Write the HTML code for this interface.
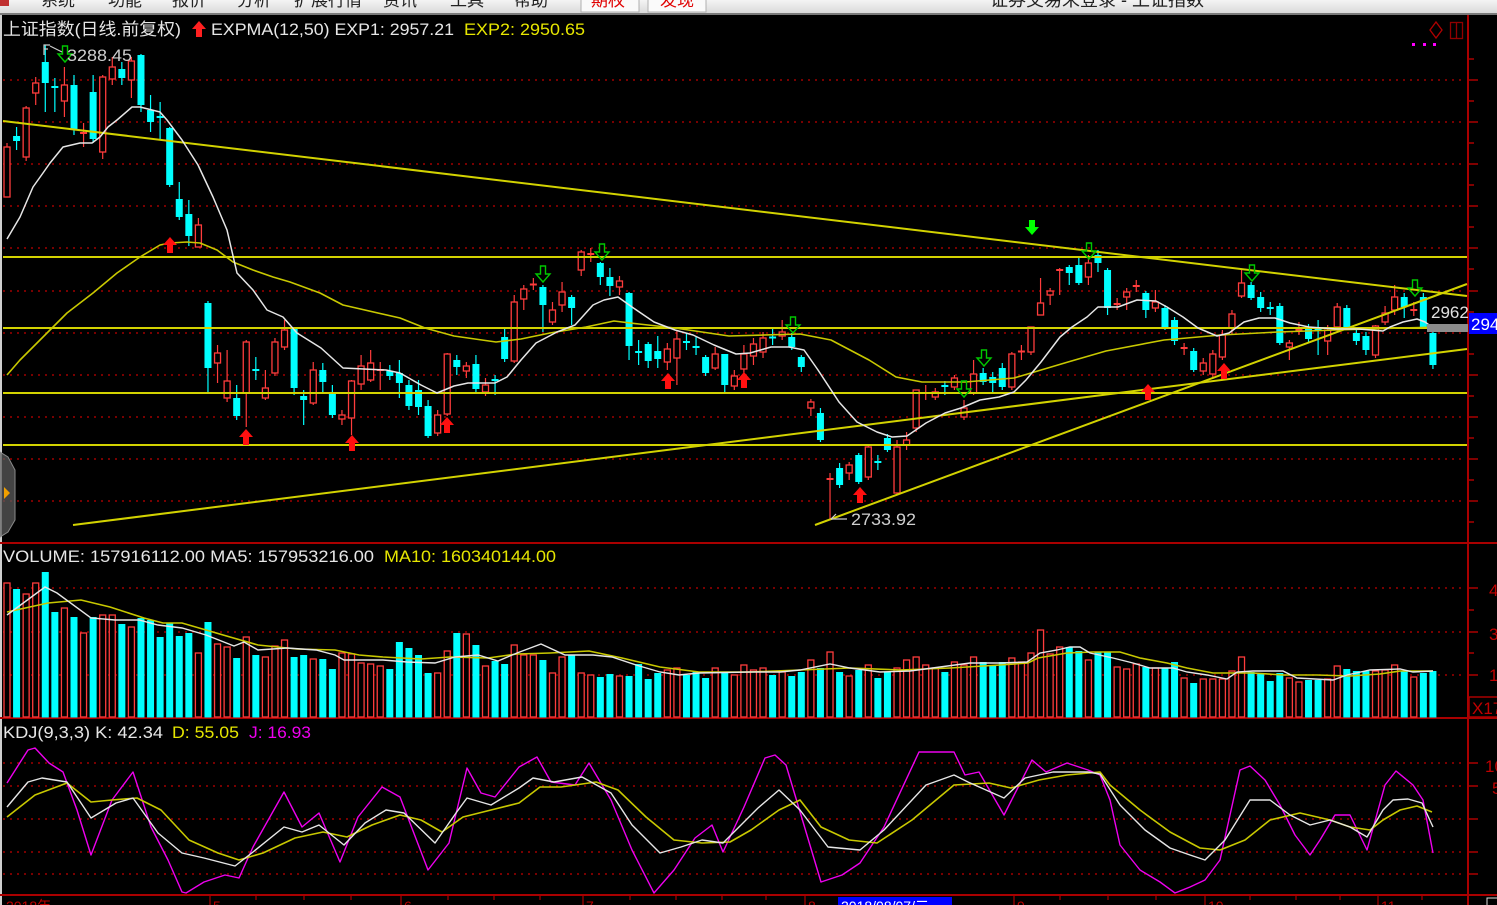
<!DOCTYPE html>
<html><head><meta charset="utf-8">
<style>
html,body{margin:0;padding:0;background:#000;overflow:hidden;}
svg{display:block;}
text{font-family:"Liberation Sans","Noto Sans CJK SC",sans-serif;}
</style></head>
<body>
<svg id="s" width="1497" height="905" viewBox="0 0 1497 905" xmlns="http://www.w3.org/2000/svg">
<defs>
<linearGradient id="mg" x1="0" y1="0" x2="0" y2="1"><stop offset="0" stop-color="#f4f4f4"/><stop offset="1" stop-color="#d8d8d8"/></linearGradient>
</defs>
<rect x="0" y="0" width="1497" height="905" fill="#000"/>
<!-- menu bar -->
<rect x="0" y="0" width="1497" height="14" fill="url(#mg)"/>
<rect x="0" y="13" width="1497" height="2" fill="#7a7a7a"/>
<rect x="581" y="-2" width="58" height="14" fill="#fafafa" stroke="#b0b0b0"/>
<rect x="648" y="-2" width="58" height="14" fill="#fafafa" stroke="#b0b0b0"/>
<g font-size="17" fill="#222">
<text x="41" y="6">系统</text>
<text x="108" y="6">功能</text>
<text x="172" y="6">报价</text>
<text x="237" y="6">分析</text>
<text x="294" y="6">扩展行情</text>
<text x="383" y="6">资讯</text>
<text x="450" y="6">工具</text>
<text x="514" y="6">帮助</text>
<text x="591" y="6" fill="#e00000">期权</text>
<text x="660" y="6" fill="#e00000">发现</text>
<text x="990" y="6" font-size="18">证券交易未登录 - 上证指数</text>
</g>
<rect x="0" y="0" width="9" height="6" fill="#c03030"/>
<!-- left strip -->
<rect x="0" y="15" width="2" height="890" fill="#cfcfcf"/>

<!-- grid dotted lines -->
<g stroke="#a00000" stroke-width="1.6" stroke-dasharray="2,5">
<line x1="3" y1="80" x2="1466" y2="80"/><line x1="3" y1="122" x2="1466" y2="122"/>
<line x1="3" y1="164" x2="1466" y2="164"/><line x1="3" y1="206" x2="1466" y2="206"/>
<line x1="3" y1="248" x2="1466" y2="248"/><line x1="3" y1="291" x2="1466" y2="291"/>
<line x1="3" y1="333" x2="1466" y2="333"/><line x1="3" y1="375" x2="1466" y2="375"/>
<line x1="3" y1="417" x2="1466" y2="417"/><line x1="3" y1="459" x2="1466" y2="459"/>
<line x1="3" y1="501" x2="1466" y2="501"/>
<line x1="3" y1="588" x2="1466" y2="588"/><line x1="3" y1="632" x2="1466" y2="632"/>
<line x1="3" y1="675" x2="1466" y2="675"/>
<line x1="3" y1="763" x2="1466" y2="763"/><line x1="3" y1="786" x2="1466" y2="786"/>
<line x1="3" y1="819" x2="1466" y2="819"/><line x1="3" y1="852" x2="1466" y2="852"/>
<line x1="3" y1="874" x2="1466" y2="874"/>
</g>

<!-- pane separators / axes -->
<g stroke="#aa0000" stroke-width="2">
<line x1="0" y1="543" x2="1497" y2="543"/>
<line x1="0" y1="718" x2="1497" y2="718"/>
<line x1="0" y1="895" x2="1497" y2="895"/>
<line x1="1468" y1="15" x2="1468" y2="905"/>
</g>
<g id="ticks" stroke="#aa0000" stroke-width="1.5"></g>

<!-- candles & volume (generated) -->
<g id="cand"></g>
<g id="vol"></g>

<!-- horizontal + trend lines -->
<g stroke="#d2d200" stroke-width="2" fill="none">
<line x1="3" y1="257" x2="1467" y2="257"/>
<line x1="3" y1="328" x2="1467" y2="328"/>
<line x1="3" y1="393" x2="1467" y2="393"/>
<line x1="3" y1="445" x2="1467" y2="445"/>
<line x1="3" y1="121" x2="1467" y2="296"/>
<line x1="73" y1="525" x2="1467" y2="349"/>
<line x1="815" y1="525" x2="1467" y2="284"/>
</g>

<!-- EXP lines -->
<polyline fill="none" stroke="#c8c800" stroke-width="1.6" stroke-linejoin="round" points="7,375 20,360 40,340 67,313 93,293 117,273 140,257 160,245 170,243 187,242 200,243 217,250 233,262 253,270 273,277 290,282 320,293 343,305 400,318 425,328 454,336 496,342 521,339 550,333 586,327 614,321 639,324 675,328 729,336 800,334 831,340 869,360 896,377 922,382 965,382 1014,378 1068,362 1106,351 1164,340 1221,335 1278,332 1336,330 1400,328 1440,327"/>
<polyline fill="none" stroke="#e6e6e6" stroke-width="1.5" stroke-linejoin="round" points="7,239 20,217 33,187 43,173 50,163 63,147 80,143 92,143 100,137 108,127 117,120 132,107 140,107 160,112 167,120 182,140 198,165 213,197 227,230 237,273 253,290 267,310 283,317 297,333 321,348 343,368 386,370 400,373 421,385 437,393 454,386 468,383 495,383 507,377 521,360 536,343 557,332 575,325 593,305 604,300 618,297 632,307 654,322 675,330 693,335 714,345 736,354 750,353 771,347 789,347 804,350 818,370 839,402 857,422 877,432 892,437 907,436 926,423 945,413 961,408 980,400 999,397 1014,392 1026,380 1041,362 1060,337 1072,327 1087,317 1098,307 1118,307 1137,300 1156,301 1167,307 1183,317 1198,328 1217,336 1229,333 1244,322 1259,318 1275,318 1290,323 1309,327 1336,329 1359,329 1383,331 1390,327 1403,322 1417,319 1425,322 1432,327"/>

<!-- arrows -->
<g id="arrows"></g>

<!-- volume MA -->
<polyline fill="none" stroke="#c8c800" stroke-width="1.6" points="7,612 48,603 81,600 110,607 144,618 163,623 182,623 206,630 230,637 258,645 297,649 335,650 359,655 383,657 421,659 450,657 488,658 517,654 550,653 589,651 622,658 660,667 699,672 750,672 800,670 850,668 900,670 950,668 1000,665 1028,663 1038,658 1067,653 1093,652 1120,652 1140,658 1167,663 1187,668 1213,673 1253,673 1283,675 1317,675 1350,676 1380,674 1400,671 1433,671"/>
<polyline fill="none" stroke="#e6e6e6" stroke-width="1.4" points="7,615 45,587 57,593 91,618 115,620 139,620 158,625 182,628 206,635 234,646 244,642 258,650 287,648 316,650 335,655 344,660 383,660 407,662 435,663 455,657 478,655 498,661 517,653 541,644 565,655 593,655 612,657 636,665 660,672 679,675 699,673 750,672 780,672 800,670 830,664 850,668 880,672 910,671 940,667 970,663 1000,663 1027,662 1040,653 1057,650 1070,647 1080,647 1090,653 1113,658 1133,663 1150,668 1173,668 1187,672 1207,675 1227,679 1237,672 1253,671 1283,671 1297,678 1333,680 1347,675 1370,670 1400,669 1413,672 1433,671"/>

<!-- KDJ -->
<polyline fill="none" stroke="#ee00ee" stroke-width="1.4" stroke-linejoin="round" points="7,783 28,750 35,748 49,763 63,772 77,810 91,855 112,800 133,772 151,827 168,860 182,892 186,893 204,882 225,875 239,878 253,847 284,792 302,827 319,813 340,862 358,817 382,787 400,797 428,870 449,843 467,768 481,793 495,797 519,767 537,757 551,782 575,785 589,763 611,800 632,850 654,893 674,870 695,838 712,825 723,852 744,807 765,758 775,755 786,765 821,882 842,875 860,863 884,827 919,752 954,752 965,775 979,772 1004,815 1032,760 1046,772 1067,763 1088,770 1100,775 1110,800 1120,845 1140,870 1160,882 1175,893 1190,887 1205,880 1220,860 1240,770 1250,766 1265,780 1280,805 1295,835 1310,855 1320,840 1335,815 1350,815 1367,850 1385,785 1396,771 1413,785 1423,800 1433,853"/>
<polyline fill="none" stroke="#c8c800" stroke-width="1.6" stroke-linejoin="round" points="7,817 35,795 67,783 91,802 112,800 137,798 161,810 189,840 218,853 239,860 263,853 295,838 323,832 347,837 372,825 400,815 421,820 442,832 463,817 491,810 519,803 540,787 561,787 596,782 618,790 646,817 674,840 702,843 730,842 751,830 779,810 800,800 821,827 849,840 877,843 912,820 954,785 989,783 1011,788 1039,780 1067,775 1100,772 1110,785 1140,810 1170,832 1200,848 1220,850 1245,840 1270,820 1300,813 1330,820 1350,827 1370,830 1383,820 1400,810 1417,806 1432,812"/>
<polyline fill="none" stroke="#e6e6e6" stroke-width="1.4" stroke-linejoin="round" points="7,807 28,782 42,778 67,782 91,818 116,803 133,798 158,833 182,853 204,858 235,866 253,852 284,827 302,832 319,825 344,845 365,823 386,810 404,813 435,843 456,813 467,798 491,805 519,788 533,778 554,782 582,777 611,793 632,825 660,853 681,847 702,840 723,843 758,808 779,790 800,810 828,847 860,850 884,830 926,785 954,775 968,782 1004,798 1025,778 1053,772 1088,772 1100,774 1120,805 1145,830 1170,848 1190,855 1205,860 1225,840 1250,800 1270,800 1290,815 1310,825 1330,820 1350,827 1367,837 1383,810 1393,800 1408,799 1422,803 1433,827"/>

<!-- headers -->
<text x="3" y="35" font-size="17" fill="#e6e6e6" textLength="178" lengthAdjust="spacingAndGlyphs">上证指数(日线.前复权)</text>
<path d="M199,21 L206,29 L202,29 L202,37 L196,37 L196,29 L192,29 Z" fill="#ff2020"/>
<text x="211" y="35" font-size="17" fill="#e6e6e6" textLength="243" lengthAdjust="spacingAndGlyphs">EXPMA(12,50) EXP1: 2957.21</text>
<text x="464" y="35" font-size="17" fill="#e6e600" textLength="121" lengthAdjust="spacingAndGlyphs">EXP2: 2950.65</text>

<text x="3" y="562" font-size="17" fill="#e6e6e6" textLength="371" lengthAdjust="spacingAndGlyphs">VOLUME: 157916112.00 MA5: 157953216.00</text>
<text x="384" y="562" font-size="17" fill="#e6e600" textLength="172" lengthAdjust="spacingAndGlyphs">MA10: 160340144.00</text>

<text x="3" y="738" font-size="17" fill="#e6e6e6" textLength="160" lengthAdjust="spacingAndGlyphs">KDJ(9,3,3) K: 42.34</text>
<text x="172" y="738" font-size="17" fill="#e6e600" textLength="67" lengthAdjust="spacingAndGlyphs">D: 55.05</text>
<text x="249" y="738" font-size="17" fill="#ee00ee" textLength="62" lengthAdjust="spacingAndGlyphs">J: 16.93</text>

<!-- price labels -->
<path d="M44,55 V45 H50 M44,49 H48 M50,46 L62,52" stroke="#cccccc" stroke-width="1.2" fill="none"/>
<text x="67" y="61" font-size="17" fill="#cfcfcf" textLength="65" lengthAdjust="spacingAndGlyphs">3288.45</text>
<path d="M831,519 L847,519 M831,519 L836,514" stroke="#cccccc" stroke-width="1.2" fill="none"/>
<text x="851" y="525" font-size="17" fill="#cfcfcf" textLength="65" lengthAdjust="spacingAndGlyphs">2733.92</text>
<text x="1431" y="318" font-size="17" fill="#e0e0e0">2962</text>
<rect x="1427" y="324" width="41" height="8" fill="#8c8c8c"/>
<rect x="1469" y="313" width="30" height="21" fill="#0000ff"/>
<text x="1471" y="330" font-size="17" fill="#ffffff">294</text>

<!-- top right icons -->
<path d="M1436,22 L1442,30 L1436,38 L1430,30 Z" fill="none" stroke="#b00000" stroke-width="1.3"/>
<rect x="1450.5" y="22.5" width="12" height="16" fill="none" stroke="#900000" stroke-width="1.3"/>
<line x1="1456.5" y1="22.5" x2="1456.5" y2="38.5" stroke="#900000" stroke-width="1.3"/>
<rect x="1412" y="43" width="3" height="3" fill="#ff00ff"/>
<rect x="1423" y="43" width="3" height="3" fill="#ff00ff"/>
<rect x="1433" y="43" width="3" height="3" fill="#ff00ff"/>

<!-- right axis labels -->
<g font-size="17" fill="#c00000">
<text x="1489" y="596">4</text>
<text x="1489" y="640">3</text>
<text x="1489" y="681">1</text>
<text x="1485" y="772">100</text>
<text x="1492" y="794">50</text>
</g>
<rect x="1469" y="697" width="30" height="20" fill="none" stroke="#aa0000" stroke-width="1.5"/>
<text x="1472" y="714" font-size="17" fill="#c00000">X17</text>

<!-- left tab -->
<path d="M0,452 L8,457 L15,470 L15,520 L8,532 L0,537 Z" fill="#5a5a5a" fill-opacity="0.75" stroke="#8a8a8a"/>
<path d="M4,487 L10,493 L4,499 Z" fill="#f0a000"/>

<!-- bottom axis -->
<g stroke="#aa0000" stroke-width="1.2">
<line x1="210" y1="895" x2="210" y2="905"/><line x1="401" y1="895" x2="401" y2="905"/>
<line x1="583" y1="895" x2="583" y2="905"/><line x1="805" y1="895" x2="805" y2="905"/>
<line x1="1014" y1="895" x2="1014" y2="905"/><line x1="1205" y1="895" x2="1205" y2="905"/>
<line x1="1378" y1="895" x2="1378" y2="905"/>
<line x1="256" y1="895" x2="256" y2="900"/><line x1="304" y1="895" x2="304" y2="900"/><line x1="351" y1="895" x2="351" y2="900"/>
<line x1="448" y1="895" x2="448" y2="900"/><line x1="494" y1="895" x2="494" y2="900"/><line x1="540" y1="895" x2="540" y2="900"/>
<line x1="630" y1="895" x2="630" y2="900"/><line x1="676" y1="895" x2="676" y2="900"/><line x1="722" y1="895" x2="722" y2="900"/><line x1="766" y1="895" x2="766" y2="900"/>
<line x1="1060" y1="895" x2="1060" y2="900"/><line x1="1108" y1="895" x2="1108" y2="900"/><line x1="1156" y1="895" x2="1156" y2="900"/>
<line x1="1250" y1="895" x2="1250" y2="900"/><line x1="1296" y1="895" x2="1296" y2="900"/><line x1="1340" y1="895" x2="1340" y2="900"/>
<line x1="1422" y1="895" x2="1422" y2="900"/>
</g>
<g font-size="14" fill="#c00000">
<text x="6" y="911">2018年</text>
<text x="213" y="911">5</text>
<text x="404" y="911">6</text>
<text x="586" y="911">7</text>
<text x="808" y="911">8</text>
<text x="1017" y="911">9</text>
<text x="1208" y="911">10</text>
<text x="1381" y="911">11</text>
</g>
<rect x="838" y="897" width="114" height="10" fill="#0000ff"/>
<text x="841" y="911" font-size="14" fill="#ffffff">2018/08/07/二</text>
<rect x="1487" y="898" width="12" height="10" fill="none" stroke="#dddddd"/>
</svg>
<script>
(function(){
var C=[[1,147,197,143,197],[0,136,141,127,150],[1,108,157,106,161],[1,83,93,77,105],[0,62,83,45,112],[0,86,88,78,112],[1,85,101,67,117],[0,85,130,75,135],[1,132,134,123,147],[0,92,139,75,143],[1,77,152,75,159],[1,67,79,57,85],[0,69,78,62,85],[1,61,80,57,98],[0,55,105,54,112],[0,110,122,95,132],[0,116,118,102,140],[0,128,185,127,187],[0,199,217,182,220],[0,214,236,200,246],[1,225,247,218,247],
[0,303,368,301,393],[1,353,363,345,383],[1,381,398,350,402],[0,398,416,385,420],[1,342,393,340,427],[0,369,371,357,380],[1,388,398,370,400],[1,342,373,338,376],[1,330,347,320,350],[0,327,388,327,395],
[0,396,400,390,425],[1,370,403,362,405],[0,370,382,363,393],[0,392,415,385,418],[1,415,419,410,425],[1,381,418,380,435],[1,366,384,355,390],[1,363,380,350,382],[1,369,371,362,390],[0,371,376,365,380],[0,373,383,360,398],[0,385,406,380,410],[0,390,407,380,415],[0,406,436,400,438],[1,415,433,410,436],[1,354,414,353,416],[0,360,367,355,375],[1,366,371,362,378],[0,364,389,355,392],[1,385,392,378,396],[0,379,381,375,395],[0,337,359,328,362],[1,302,361,295,363],[1,289,299,285,310],[1,283,286,278,290],[0,287,305,285,332],[1,310,322,302,325],[1,292,305,282,312],[0,297,308,295,325],[1,252,270,250,276],[1,253,255,248,262],[0,263,277,262,285],[0,277,286,268,296],[1,281,287,276,295],[0,293,346,292,360],[0,351,353,340,365],[0,344,361,342,368],[0,351,359,336,368],[1,349,362,343,370],[1,339,358,330,385],[0,341,343,333,350],[0,346,348,337,355],[0,357,373,355,376],[1,354,368,347,370],[0,354,385,354,392],[1,376,386,370,390],[1,354,369,345,375],[1,344,356,338,365],[1,338,352,332,358],[0,336,339,328,345],[1,332,336,320,340],[0,337,347,333,350],[0,357,367,355,372],[1,402,408,399,416],[0,413,440,408,442],
[1,478,480,473,520],[0,468,485,463,488],[1,465,473,462,480],[0,455,482,453,484],[1,447,477,446,480],[0,461,463,455,470],[0,438,450,434,452],[1,447,493,440,495],[1,440,445,432,450],[1,390,428,390,432],[1,392,394,385,400],[1,392,397,388,400],[0,385,387,381,395],[1,378,387,375,390],[1,408,417,400,420],[1,374,393,360,395],[0,373,382,368,385],[0,377,383,372,392],[0,368,387,363,390],[1,354,387,352,390],[1,350,353,345,360],[1,327,352,327,355],[1,303,315,278,315],[1,291,295,288,305],[1,269,271,268,295],[0,267,273,265,285],[0,265,283,258,285],[1,263,277,255,285],[0,255,263,250,272],[0,270,308,268,315],[1,303,305,298,310],[1,292,297,288,310],[1,285,287,280,292],[0,293,310,291,318],[1,302,308,290,312],[0,308,328,305,330],[0,320,341,317,345],[1,347,349,343,355],[0,351,370,348,372],[1,363,371,358,375],[1,354,374,350,378],[1,335,357,330,360],[1,314,328,310,334],[1,283,296,270,298],[0,285,298,282,300],[0,297,308,292,312],[0,307,309,302,315],[0,306,343,303,345],[1,343,347,340,360],[1,329,331,322,335],[0,327,339,324,342],[0,329,331,320,355],[1,330,341,325,355],[1,307,327,303,332],[0,308,327,305,330],[0,333,341,330,345],[0,336,350,332,355],[1,326,355,325,358],[1,313,322,306,325],[1,297,310,285,315],[0,297,307,293,318],[1,309,311,302,316],[0,297,327,293,327],[0,333,365,327,369]];
var V=[583,589,594,583,572,612,608,617,633,617,615,615,624,627,618,620,637,623,636,633,653,622,644,647,658,637,655,657,646,640,657,655,659,659,669,653,654,663,664,666,669,642,648,655,673,673,651,633,634,645,666,661,664,645,655,655,660,673,657,655,673,675,677,674,676,676,664,679,673,
670,668,675,672,678,668,672,675,665,670,668,675,672,676,672,660,668,652,672,676,670,665,678,672,668,660,657,665,668,672,662,665,657,662,665,
662,658,662,653,630,654,647,647,651,660,652,652,667,669,664,667,668,668,662,678,683,679,679,679,671,657,672,673,681,673,678,682,680,680,679,666,669,671,671,671,670,665,671,677,673,671];
var RED='#ff3c3c',CY='#00ffff';
function X(i){return 7+i*9.57;}
var s='',v='';
for(var i=0;i<C.length;i++){
 var c=C[i],cx=X(i),col=c[0]?RED:CY,h=c[2]-c[1];
 s+='<line x1="'+cx+'" y1="'+c[3]+'" x2="'+cx+'" y2="'+c[4]+'" stroke="'+col+'" stroke-width="1.2"/>';
 if(h<=3){s+='<line x1="'+(cx-3.5)+'" y1="'+((c[1]+c[2])/2)+'" x2="'+(cx+3.5)+'" y2="'+((c[1]+c[2])/2)+'" stroke="'+col+'" stroke-width="2"/>';}
 else if(c[0]){s+='<rect x="'+(cx-3)+'" y="'+c[1]+'" width="6" height="'+h+'" fill="#000" stroke="'+col+'" stroke-width="1.3"/>';}
 else{s+='<rect x="'+(cx-3.5)+'" y="'+c[1]+'" width="7" height="'+h+'" fill="'+col+'"/>';}
 if(i<V.length){
  var t=V[i],hh=717-t;
  if(c[0]) v+='<rect x="'+(cx-3)+'" y="'+t+'" width="6" height="'+hh+'" fill="#000" stroke="'+RED+'" stroke-width="1.3"/>';
  else v+='<rect x="'+(cx-3.5)+'" y="'+t+'" width="7" height="'+(hh+0.5)+'" fill="'+CY+'"/>';
 }
}
document.getElementById('cand').innerHTML=s;
document.getElementById('vol').innerHTML=v;
var a='';
var up=[[170,237],[246,429],[352,435],[447,417],[668,373],[744,372],[860,487],[1148,384],[1224,363]];
up.forEach(function(p){var x=p[0],y=p[1];a+='<path d="M'+x+','+y+' L'+(x+7)+','+(y+8)+' L'+(x+3)+','+(y+8)+' L'+(x+3)+','+(y+16)+' L'+(x-3)+','+(y+16)+' L'+(x-3)+','+(y+8)+' L'+(x-7)+','+(y+8)+' Z" fill="#ff1010"/>';});
var dn=[[65,46],[543,266],[602,244],[793,317],[964,381],[984,350],[1089,243],[1252,265],[1415,280]];
dn.forEach(function(p){var x=p[0],y=p[1];a+='<path d="M'+(x-2.5)+','+y+' L'+(x+2.5)+','+y+' L'+(x+2.5)+','+(y+8)+' L'+(x+7)+','+(y+8)+' L'+x+','+(y+16)+' L'+(x-7)+','+(y+8)+' L'+(x-2.5)+','+(y+8)+' Z" fill="none" stroke="#00c800" stroke-width="1.4"/>';});
var x=1032,y=220;
a+='<path d="M'+(x-3)+','+y+' L'+(x+3)+','+y+' L'+(x+3)+','+(y+7)+' L'+(x+7)+','+(y+7)+' L'+x+','+(y+15)+' L'+(x-7)+','+(y+7)+' L'+(x-3)+','+(y+7)+' Z" fill="#00ff00"/>';
document.getElementById('arrows').innerHTML=a;
var t='';
var main=[80,122,164,206,248,291,333,375,417,459,501];
main.forEach(function(y){t+='<line x1="1468" y1="'+y+'" x2="1478" y2="'+y+'"/>';t+='<line x1="1468" y1="'+(y+21)+'" x2="1474" y2="'+(y+21)+'"/>';});
t+='<line x1="1468" y1="59" x2="1474" y2="59"/>';
[588,632,675].forEach(function(y){t+='<line x1="1468" y1="'+y+'" x2="1478" y2="'+y+'"/>';});
[610,653].forEach(function(y){t+='<line x1="1468" y1="'+y+'" x2="1474" y2="'+y+'"/>';});
[763,786,819,852,874].forEach(function(y){t+='<line x1="1468" y1="'+y+'" x2="1478" y2="'+y+'"/>';});
document.getElementById('ticks').innerHTML=t;
})();
</script>
</body></html>
